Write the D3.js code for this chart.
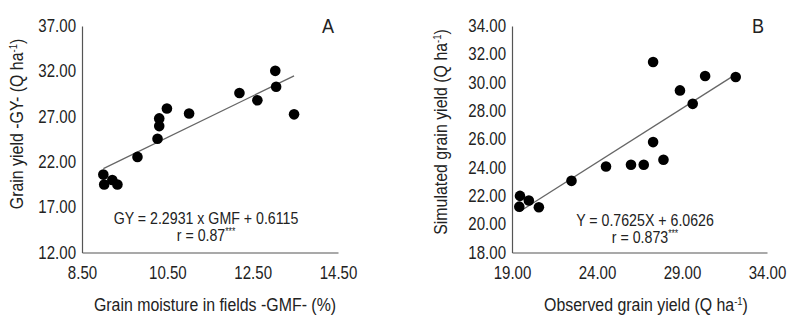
<!DOCTYPE html>
<html>
<head>
<meta charset="utf-8">
<script src="https://cdn.jsdelivr.net/npm/d3@7"></script>
<style>
  body { margin: 0; background: #fff; }
  svg text { font-family: 'Liberation Sans Narrow', 'Arial Narrow', 'Liberation Sans', Arial, sans-serif; fill: #222; }
</style>
</head>
<body>
<div id="chart"></div>
<script>
// Data - panel A (grain moisture vs grain yield)
const gmf = [9.0, 9.02, 9.21, 9.33, 9.8, 10.27, 10.31, 10.31, 10.49, 11.01, 12.19, 12.61, 13.03, 13.05, 13.47];
const gy = [20.6, 19.5, 20.0, 19.5, 22.55, 24.55, 25.95, 26.8, 27.9, 27.35, 29.6, 28.8, 32.05, 30.3, 27.25];
const ticksAX = [8.5, 10.5, 12.5, 14.5];
const ticksAY = [12, 17, 22, 27, 32, 37];
const fitA = { slope: 2.2931, intercept: 0.6115 };

// Data - panel B (observed vs simulated)
const observed = [19.47, 19.43, 19.99, 20.58, 22.5, 24.53, 26.0, 26.75, 27.3, 27.3, 27.91, 28.88, 29.63, 30.36, 32.16];
const simulated = [22.0, 21.24, 21.67, 21.2, 23.06, 24.07, 24.2, 24.2, 31.46, 25.8, 24.55, 29.45, 28.5, 30.47, 30.4];
const ticksBX = [19, 24, 29, 34];
const ticksBY = [18, 20, 22, 24, 26, 28, 30, 32, 34];
const fitB = { slope: 0.7625, intercept: 6.0626 };

// no narrow font installed, so squeeze the regular one
const squeeze = 0.86;

const svg = d3
  .select('#chart')
  .append('svg')
  .attr('width', 793)
  .attr('height', 323);

const fmt = d3.format('.2f');

// text with optional superscript parts, squeezed horizontally
function label(parent, transform, parts, size) {
  const t = parent
    .append('g')
    .attr('transform', `${transform} scale(${squeeze}, 1)`)
    .append('text')
    .attr('text-anchor', 'middle')
    .style('font-size', `${size}px`);
  parts.forEach((p) => {
    const s = t.append('tspan').text(p.t);
    if (p.sup) s.attr('dy', -6).style('font-size', `${Math.round(size * 0.6)}px`);
    if (p.after) s.attr('dy', 6);
  });
  return t;
}

function panel(opts) {
  const g = svg.append('g');
  const x = d3.scaleLinear(opts.xDomain, opts.xRange);
  const y = d3.scaleLinear(opts.yDomain, opts.yRange);

  const xAxis = g
    .append('g')
    .attr('transform', `translate(0, ${opts.yRange[0]})`)
    .call(d3.axisBottom(x).tickValues(opts.xTicks).tickFormat(fmt).tickSize(0).tickPadding(14).tickSizeOuter(0));
  const yAxis = g
    .append('g')
    .attr('transform', `translate(${opts.xRange[0]}, 0)`)
    .call(d3.axisLeft(y).tickValues(opts.yTicks).tickFormat(fmt).tickSize(0).tickPadding(6 / squeeze).tickSizeOuter(0));

  [xAxis, yAxis].forEach((a) => {
    a.select('.domain').attr('stroke', '#555').attr('stroke-width', 1.2);
    a.selectAll('text')
      .style('font-size', '17.5px')
      .attr('fill', '#222')
      .attr('transform', `scale(${squeeze}, 1)`);
  });

  // regression line from min to max x
  const [x0, x1] = d3.extent(opts.xs);
  g.append('line')
    .attr('x1', x(x0))
    .attr('y1', y(opts.fit.slope * x0 + opts.fit.intercept))
    .attr('x2', x(x1))
    .attr('y2', y(opts.fit.slope * x1 + opts.fit.intercept))
    .attr('stroke', '#666')
    .attr('stroke-width', 1.3);

  g.append('g')
    .selectAll('circle')
    .data(opts.xs.map((d, i) => [d, opts.ys[i]]))
    .join('circle')
    .attr('cx', (d) => x(d[0]))
    .attr('cy', (d) => y(d[1]))
    .attr('r', 5.3)
    .attr('fill', '#000');

  // equation text
  label(g, `translate(${opts.eqPos[0]}, ${opts.eqPos[1]})`, [{ t: opts.eq[0] }], 16.5);
  label(g, `translate(${opts.eqPos[0]}, ${opts.eqPos[1] + 17})`, [{ t: opts.eq[1] }, { t: '***', sup: true }], 16.5);

  // panel letter
  label(g, `translate(${opts.letterPos[0]}, ${opts.letterPos[1]})`, [{ t: opts.letter }], 21);

  // axis names
  label(g, `translate(${opts.xTitlePos[0]}, ${opts.xTitlePos[1]})`, opts.xTitle, 18.5);
  label(g, `translate(${opts.yTitlePos[0]}, ${opts.yTitlePos[1]}) rotate(-90)`, opts.yTitle, 18.5);
}

panel({
  xDomain: [8.5, 14.5], xRange: [82, 338],
  yDomain: [12, 37], yRange: [252.5, 26],
  xTicks: ticksAX, yTicks: ticksAY,
  xs: gmf, ys: gy, fit: fitA,
  eq: ['GY = 2.2931 x GMF + 0.6115', 'r = 0.87'],
  eqPos: [206, 224],
  letter: 'A', letterPos: [328, 33],
  xTitle: [{ t: 'Grain moisture in fields -GMF- (%)' }],
  xTitlePos: [215, 311],
  yTitle: [{ t: 'Grain yield -GY- (Q ha' }, { t: '-1', sup: true }, { t: ')', after: true }],
  yTitlePos: [23, 124]
});

panel({
  xDomain: [19, 34], xRange: [512, 767],
  yDomain: [18, 34], yRange: [252.5, 26],
  xTicks: ticksBX, yTicks: ticksBY,
  xs: observed, ys: simulated, fit: fitB,
  eq: ['Y = 0.7625X + 6.0626', 'r = 0.873'],
  eqPos: [645, 226],
  letter: 'B', letterPos: [758, 33],
  xTitle: [{ t: 'Observed grain yield (Q ha' }, { t: '-1', sup: true }, { t: ')', after: true }],
  xTitlePos: [646, 311],
  yTitle: [{ t: 'Simulated grain yield (Q ha' }, { t: '-1', sup: true }, { t: ')', after: true }],
  yTitlePos: [447, 132]
});
</script>
</body>
</html>
